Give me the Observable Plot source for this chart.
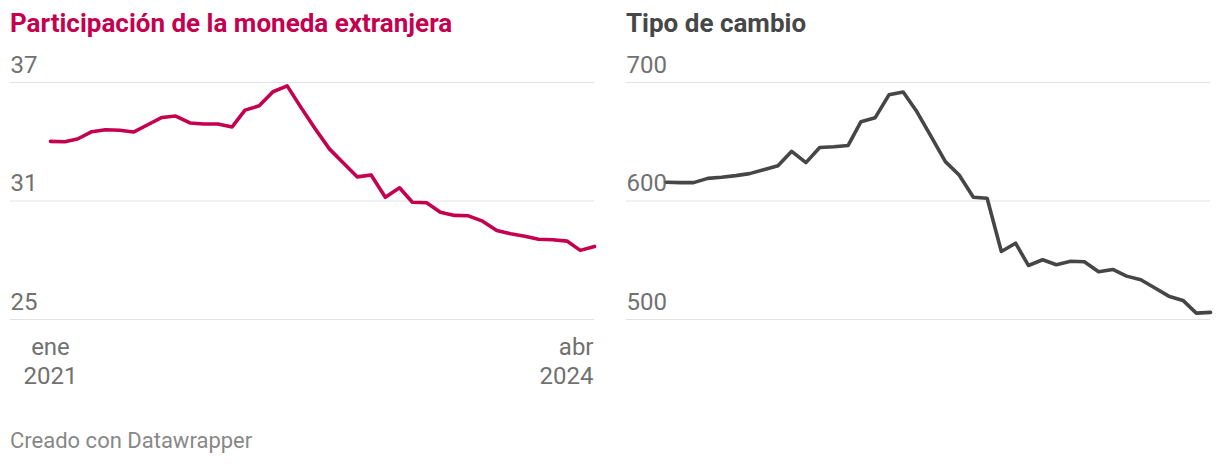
<!DOCTYPE html>
<html>
<head>
<meta charset="utf-8">
<script src="https://cdn.jsdelivr.net/npm/d3@7"></script>
<script src="https://cdn.jsdelivr.net/npm/@observablehq/plot@0.6"></script>
<style>
  html, body { margin: 0; padding: 0; background: #fff; }
  body { font-family: Roboto, sans-serif; }
  #wrap { position: relative; width: 1220px; height: 466px; }
  .title { position: absolute; top: 6px; font-size: 26px; font-weight: 700; line-height: 34px; white-space: nowrap; }
  .chart { position: absolute; top: 50px; }
  #footer { position: absolute; left: 10px; top: 428px; font-size: 22px; color: #888; line-height: 26px; }
</style>
</head>
<body>
<div id="wrap">
  <div class="title" style="left:10px;color:#c4004f">Participación de la moneda extranjera</div>
  <div class="title" style="left:626px;color:#474747">Tipo de cambio</div>
  <div class="chart" id="left" style="left:10px"></div>
  <div class="chart" id="right" style="left:626px"></div>
  <div id="footer">Creado con Datawrapper</div>
</div>
<script>
const months = [
  "2021-01","2021-02","2021-03","2021-04","2021-05","2021-06","2021-07","2021-08","2021-09","2021-10","2021-11","2021-12",
  "2022-01","2022-02","2022-03","2022-04","2022-05","2022-06","2022-07","2022-08","2022-09","2022-10","2022-11","2022-12",
  "2023-01","2023-02","2023-03","2023-04","2023-05","2023-06","2023-07","2023-08","2023-09","2023-10","2023-11","2023-12",
  "2024-01","2024-02","2024-03","2024-04"
];
const participacion = [
  34.02, 34.00, 34.14, 34.51, 34.61, 34.58, 34.49, 34.86, 35.23, 35.30, 34.95, 34.90,
  34.90, 34.75, 35.60, 35.82, 36.53, 36.83, 35.74, 34.66, 33.64, 32.94, 32.22, 32.32,
  31.19, 31.67, 30.94, 30.91, 30.43, 30.27, 30.25, 29.98, 29.51, 29.34, 29.21, 29.06,
  29.04, 28.97, 28.50, 28.70
];
const tipoCambio = [
  615.8, 615.5, 615.5, 619.1, 620.0, 621.4, 623.1, 626.4, 629.8, 641.9, 632.4, 645.2,
  645.8, 646.9, 666.9, 670.3, 689.6, 692.0, 675.3, 654.3, 633.2, 622.0, 603.1, 602.3,
  557.4, 564.4, 545.6, 550.4, 546.2, 549.2, 548.7, 540.3, 542.2, 536.6, 533.5, 526.8,
  519.7, 516.1, 505.4, 506.0
];
const leftTicks = [25, 31, 37];
const rightTicks = [500, 600, 700];
const xLabelFirst = "ene\n2021";
const xLabelLast = "abr\n2024";

const parse = d3.utcParse("%Y-%m");
const dates = months.map(parse);
const first = dates[0], last = dates[dates.length - 1];

function chart(values, ticks, color, showX) {
  const data = dates.map((d, i) => ({date: d, value: values[i]}));
  const marks = [
    Plot.ruleY(ticks, {stroke: "#e3e3e3", strokeWidth: 1}),
    Plot.text(ticks, {y: d => d, text: d => String(d), frameAnchor: "left", textAnchor: "start",
      lineAnchor: "bottom", dy: -10, fill: "#717171", fontSize: 24}),
    Plot.line(data, {x: "date", y: "value", stroke: color, strokeWidth: 3.6, strokeLinejoin: "round"})
  ];
  if (showX) {
    marks.push(
      Plot.text([first], {x: d => d, text: () => xLabelFirst, frameAnchor: "bottom", lineAnchor: "top",
        lineHeight: 1.2, dy: 15, textAnchor: "middle", fill: "#717171", fontSize: 24}),
      Plot.text([last], {x: d => d, text: () => xLabelLast, frameAnchor: "bottom", lineAnchor: "top",
        lineHeight: 1.2, dy: 15, textAnchor: "end", dx: -1, fill: "#717171", fontSize: 24})
    );
  }
  return Plot.plot({
    width: 584, height: 349,
    marginTop: 32, marginBottom: 80, marginLeft: 0, marginRight: 0,
    x: {type: "utc", domain: [first, last], range: [40, 584], axis: null},
    y: {domain: [ticks[0], ticks[ticks.length - 1]], axis: null},
    style: {fontFamily: "Roboto, sans-serif", fontSize: "24px", overflow: "visible", background: "transparent"},
    marks
  });
}

document.getElementById("left").appendChild(chart(participacion, leftTicks, "#c4004f", true));
document.getElementById("right").appendChild(chart(tipoCambio, rightTicks, "#464646", false));
</script>
</body>
</html>
